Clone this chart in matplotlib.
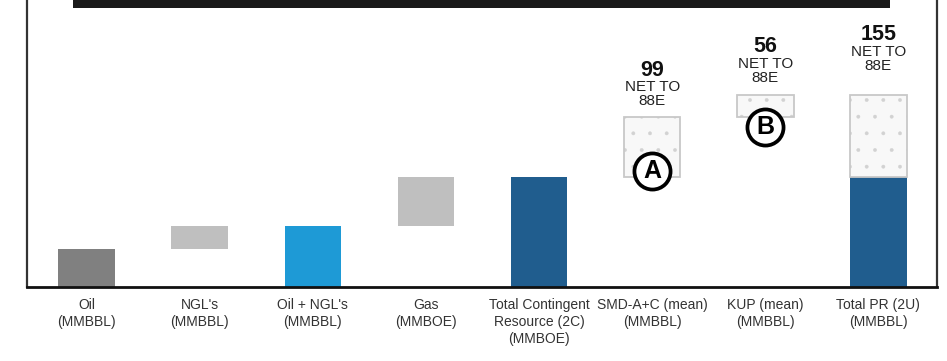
import matplotlib
matplotlib.use("Agg")
import matplotlib.pyplot as plt
from matplotlib.patches import Rectangle

plt.rcParams['font.family'] = ['Liberation Sans', 'DejaVu Sans']
plt.rcParams['hatch.linewidth'] = 0.3

# ---- data -------------------------------------------------------------
categories = [
    "Oil\n(MMBBL)",
    "NGL's\n(MMBBL)",
    "Oil + NGL's\n(MMBBL)",
    "Gas\n(MMBOE)",
    "Total Contingent\nResource (2C)\n(MMBOE)",
    "SMD-A+C (mean)\n(MMBBL)",
    "KUP (mean)\n(MMBBL)",
    "Total PR (2U)\n(MMBBL)",
]
oil = 38
ngl = 23
gas = 49
smd = 60
kup = 22
net_labels = ["99", "56", "155"]          # SMD, KUP, Total PR
circle_tags = ["A", "B"]

# ---- derived waterfall geometry ----------------------------------------
oil_ngl = oil + ngl
total_2c = oil_ngl + gas
total_pr = smd + kup

c_oil = "#808080"
c_step = "#bfbfbf"
c_liquids = "#1e9ad6"
c_total = "#205d8e"
c_pros_face = "#f8f8f8"
c_pros_dots = "#d2d2d2"
c_pros_edge = "#c8c8c8"

fig = plt.figure(figsize=(9.47, 3.61), dpi=100)
ax = fig.add_axes([27 / 947, 74 / 361, 910 / 947, 287 / 361])

x = list(range(len(categories)))
w = 0.5

ax.bar(x[0], oil, w, color=c_oil)
ax.bar(x[1], ngl, w, bottom=oil, color=c_step)
ax.bar(x[2], oil_ngl, w, color=c_liquids)
ax.bar(x[3], gas, w, bottom=oil_ngl, color=c_step)
ax.bar(x[4], total_2c, w, color=c_total)
ax.bar(x[7], total_2c, w, color=c_total)


def prospective(xi, height, bottom):
    # dotted fill, then a thin light-grey outline on top
    ax.bar(xi, height, w, bottom=bottom, facecolor=c_pros_face,
           edgecolor=c_pros_dots, hatch=".", linewidth=0)
    ax.bar(xi, height, w, bottom=bottom, facecolor="none",
           edgecolor=c_pros_edge, linewidth=1.3)


prospective(x[5], smd, total_2c)
prospective(x[6], kup, total_2c + smd)
prospective(x[7], total_pr, total_2c)

# net-to-88E callouts above the prospective bars
tops = [total_2c + smd, total_2c + smd + kup, total_2c + total_pr]
gaps = [9, 10, 22]
for xi, top, gap, lab in zip(x[5:], tops, gaps, net_labels):
    ax.text(xi, top + gap, "NET TO\n88E", ha="center", va="bottom",
            fontsize=11, color="#222222", linespacing=1.0)
    ax.text(xi, top + gap + 38, lab, ha="center", va="center",
            fontsize=15.5, fontweight="bold", color="#111111")

# lettered markers
marks = [(x[5], total_2c + 6), (x[6], total_2c + smd - 10)]
for (mx, my), tag in zip(marks, circle_tags):
    ax.plot(mx, my, "o", ms=26, mfc="white", mec="black", mew=2.7, zorder=5)
    ax.text(mx, my - 0.5, tag, ha="center", va="center", fontsize=18,
            fontweight="bold", color="black", zorder=6)

# banner along the top edge
ax.add_patch(Rectangle((46 / 910, 279 / 287), 817 / 910, 10 / 287,
                       transform=ax.transAxes, facecolor="#1a1a1a",
                       edgecolor="none", clip_on=False))

ax.set_xlim(-0.527, 7.518)
ax.set_ylim(0, 287)
ax.set_xticks(x)
ax.set_xticklabels(categories, fontsize=10, color="#333333", linespacing=1.25)
ax.tick_params(axis="x", length=0, pad=8)
ax.set_yticks([])
ax.spines["top"].set_visible(False)
for s in ("left", "right"):
    ax.spines[s].set_color("#333333")
    ax.spines[s].set_linewidth(1.6)
ax.spines["bottom"].set_color("#111111")
ax.spines["bottom"].set_linewidth(2.0)

fig.savefig("out.png", dpi=100)
